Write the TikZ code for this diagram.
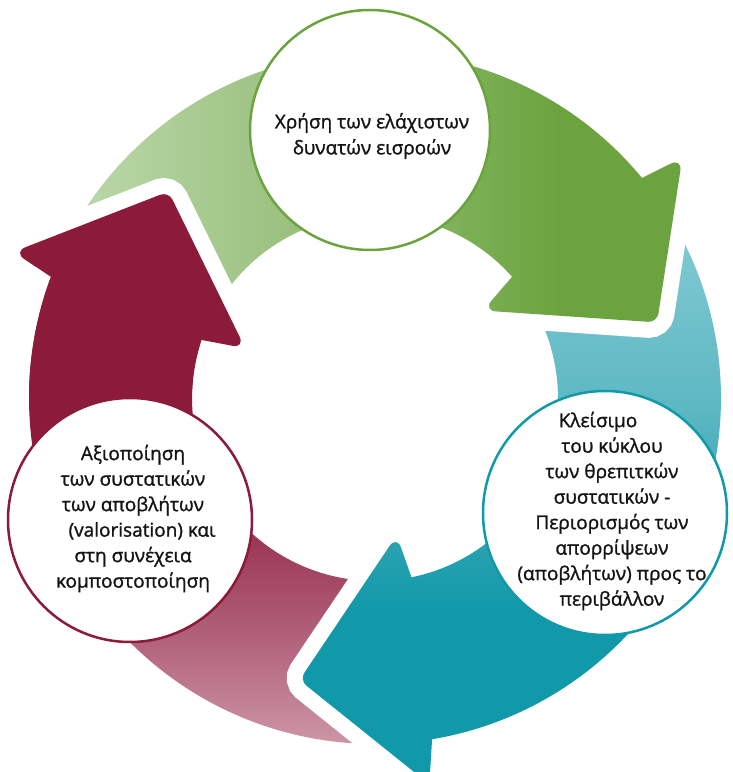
\documentclass[tikz,border=0pt]{standalone}
\usepackage{fontspec}
\setmainfont{Open Sans}[FakeBold=1.3]
\definecolor{gL}{HTML}{B9D7A7}
\definecolor{gM}{HTML}{A1C588}
\definecolor{gN}{HTML}{80B25A}
\definecolor{gD}{HTML}{6BA43F}
\definecolor{tL}{HTML}{80C9D1}
\definecolor{tM}{HTML}{5DB8C3}
\definecolor{tN}{HTML}{2FA4B2}
\definecolor{tD}{HTML}{1199AA}
\definecolor{mL}{HTML}{CF9AA8}
\definecolor{mM}{HTML}{B56880}
\definecolor{mD}{HTML}{8C1A3A}
\definecolor{txtc}{HTML}{141414}
\pgfdeclarehorizontalshading{gshade}{100bp}{color(0bp)=(gL); color(27bp)=(gL); color(40bp)=(gM); color(56bp)=(gN); color(65bp)=(gD); color(100bp)=(gD)}
\pgfdeclareverticalshading{tshade}{100bp}{color(0bp)=(tD); color(40bp)=(tD); color(47bp)=(tN); color(57.5bp)=(tM); color(72bp)=(tL); color(100bp)=(tL)}
\pgfdeclareverticalshading{mshade}{100bp}{color(0bp)=(mL); color(25bp)=(mL); color(34bp)=(mM); color(50bp)=(mD); color(100bp)=(mD)}
\newcommand\arangles[1]{%
  \pgfmathsetmacro\arTail{#1+115}%
  \pgfmathsetmacro\arB{#1-1.5}%
  \pgfmathsetmacro\arC{#1-24.5}%
  \pgfmathsetmacro\arD{#1-0.5}%
  \pgfmathsetmacro\arE{#1+2}}
\newcommand\arrowshape[2]{%
  \arangles{#1}%
  \path[#2] (\arTail:346) arc[start angle=\arTail, end angle=#1, radius=346pt]
    [rounded corners=13pt] -- (\arB:390) [rounded corners=9pt] -- (\arC:292)
    [rounded corners=13pt] -- (\arD:139) [sharp corners] -- (\arE:183)
    arc[start angle=\arE, end angle=\arTail, radius=183pt] -- cycle;}
\newcommand\headoutline[2]{%
  \arangles{#1}%
  \path[#2] (#1:346)
    [rounded corners=13pt] -- (\arB:390) [rounded corners=9pt] -- (\arC:292)
    [rounded corners=13pt] -- (\arD:139) [sharp corners] -- (\arE:183);}
\tikzset{
  gapline/.style={draw=white, line width=32pt},
  ringnode/.style={circle, fill=white, line width=2.5pt, minimum size=#1, inner sep=0pt},
  lbl/.style={align=center, text=txtc, font=\fontsize{19pt}{26pt}\selectfont, inner sep=0pt}
}
\begin{document}
\begin{tikzpicture}[x=1pt,y=1pt]
\useasboundingbox (0,0) rectangle (733,772);
\begin{scope}[shift={(375,374)}]
  \arrowshape{-200.5}{gapline}
  \arrowshape{-200.5}{shade, shading=mshade}
  \arrowshape{-80.5}{gapline}
  \arrowshape{-80.5}{shade, shading=tshade}
  \arrowshape{39.5}{gapline}
  \arrowshape{39.5}{shade, shading=gshade}
  \headoutline{-200.5}{gapline}
  \begin{scope}
    \clip (0,0) -- (122:440) arc[start angle=122, end angle=178, radius=440pt] -- cycle;
    \arrowshape{-200.5}{shade, shading=mshade}
  \end{scope}
\end{scope}
\node[ringnode=240pt, draw=gD] (ctop) at (370,642) {};
\node[ringnode=244pt, draw=tD] (cright) at (605,259) {};
\node[ringnode=244pt, draw=mD] (cleft) at (130,252) {};
\node[lbl] (ttop) at (372,636) {Χρήση των ελάχιστων\\δυνατών εισροών};
\node[lbl, font=\fontsize{19pt}{25.5pt}\selectfont] (tright) at (612,261) {Κλείσιμο\hspace*{28pt}\\του κύκλου\\των θρεπιτκών\\συστατικών -\\Περιορισμός των\\απορρίψεων\\(αποβλήτων) προς το\\περιβάλλον};
\node[lbl, font=\fontsize{19pt}{25.5pt}\selectfont] (tleft) at (133,253.5) {Αξιοποίηση\\των συστατικών\\των αποβλήτων\\\hspace*{18pt}(valorisation) και\\στη συνέχεια\\κομποστοποίηση};
\end{tikzpicture}
\end{document}
